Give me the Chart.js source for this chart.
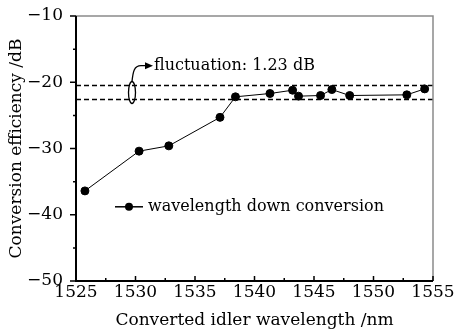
<!DOCTYPE html>
<html>
<head>
<meta charset="utf-8">
<script src="https://cdn.jsdelivr.net/npm/chart.js@4"></script>
<style>
html, body { margin: 0; padding: 0; background: #fff; }
</style>
</head>
<body>
<canvas id="chart" width="455" height="336"></canvas>
<script>
// Measured points of the down-conversion curve
const wavelengths = [1525.75, 1530.3, 1532.8, 1537.1, 1538.4, 1541.3, 1543.2, 1543.7, 1545.55, 1546.5, 1548.0, 1552.8, 1554.3];
const efficiency = [-36.4, -30.4, -29.6, -25.3, -22.2, -21.7, -21.2, -22.1, -22.0, -21.1, -22.0, -21.9, -21.0];
// Dashed bounds of the flat region
const fluctuationBounds = [-20.5, -22.6];
const xRange = [1525, 1555];
const yRange = [-50, -10];
const seriesLabel = 'wavelength down conversion';
const fluctuationLabel = 'fluctuation: 1.23 dB';

const FONT = 'DejaVu Serif';

const dashedSets = fluctuationBounds.map(v => ({
    data: [{ x: xRange[0], y: v }, { x: xRange[1], y: v }],
    showLine: true,
    borderColor: '#000',
    borderWidth: 1.5,
    borderDash: [5, 3],
    pointRadius: 0,
    pointHoverRadius: 0,
    fill: false
}));

// frame, minor ticks, legend and annotation
const decorations = {
    id: 'decorations',
    afterDatasetsDraw(chart) {
        const ctx = chart.ctx;
        const { left, right, top, bottom } = chart.chartArea;
        const xs = chart.scales.x;
        const ys = chart.scales.y;
        ctx.save();

        // grey top / right frame
        ctx.strokeStyle = '#8a8a8a';
        ctx.lineWidth = 1.5;
        ctx.beginPath();
        ctx.moveTo(left, top);
        ctx.lineTo(right, top);
        ctx.lineTo(right, bottom);
        ctx.stroke();

        // black left / bottom axes
        ctx.strokeStyle = '#000';
        ctx.lineWidth = 2;
        ctx.beginPath();
        ctx.moveTo(left, top);
        ctx.lineTo(left, bottom);
        ctx.lineTo(right, bottom);
        ctx.stroke();

        // ticks: y outward, x inward
        ctx.lineWidth = 1.5;
        ctx.beginPath();
        for (let v = yRange[0]; v <= yRange[1]; v += 5) {
            const p = ys.getPixelForValue(v);
            const len = v % 10 === 0 ? 6 : 3;
            ctx.moveTo(left - len, p);
            ctx.lineTo(left, p);
        }
        for (let v = xRange[0]; v <= xRange[1]; v += 2.5) {
            const p = xs.getPixelForValue(v);
            const len = (v - xRange[0]) % 5 === 0 ? 5 : 3;
            ctx.moveTo(p, bottom);
            ctx.lineTo(p, bottom - len);
        }
        ctx.stroke();

        // legend
        const ly = ys.getPixelForValue(-38.8);
        ctx.lineWidth = 1.5;
        ctx.beginPath();
        ctx.moveTo(left + 39, ly);
        ctx.lineTo(left + 67, ly);
        ctx.stroke();
        ctx.fillStyle = '#000';
        ctx.beginPath();
        ctx.arc(left + 53, ly, 4, 0, Math.PI * 2);
        ctx.fill();
        ctx.font = '16px "' + FONT + '"';
        ctx.textBaseline = 'middle';
        ctx.textAlign = 'left';
        ctx.fillText(seriesLabel, left + 72, ly);

        // ellipse around the two dashed lines
        const y1 = ys.getPixelForValue(fluctuationBounds[0]);
        const y2 = ys.getPixelForValue(fluctuationBounds[1]);
        const cx = left + 56;
        const cy = (y1 + y2) / 2;
        ctx.lineWidth = 1.3;
        ctx.beginPath();
        ctx.ellipse(cx, cy, 3.5, 11, 0, 0, Math.PI * 2);
        ctx.stroke();

        // hooked arrow to label
        const ty = ys.getPixelForValue(-17.5);
        ctx.beginPath();
        ctx.moveTo(cx, cy - 11);
        ctx.bezierCurveTo(cx + 1, ty + 6, cx + 2, ty, cx + 9, ty);
        ctx.lineTo(cx + 15, ty);
        ctx.stroke();
        ctx.beginPath();
        ctx.moveTo(cx + 21, ty);
        ctx.lineTo(cx + 13, ty - 3.5);
        ctx.lineTo(cx + 13, ty + 3.5);
        ctx.closePath();
        ctx.fill();

        ctx.fillText(fluctuationLabel, cx + 22, ty);
        ctx.restore();
    }
};

new Chart(document.getElementById('chart'), {
    type: 'scatter',
    data: {
        datasets: [
            {
                label: seriesLabel,
                data: wavelengths.map((x, i) => ({ x, y: efficiency[i] })),
                showLine: true,
                borderColor: '#000',
                borderWidth: 1,
                pointRadius: 4,
                pointHoverRadius: 4,
                pointBackgroundColor: '#000',
                pointBorderColor: '#000'
            },
            ...dashedSets
        ]
    },
    options: {
        responsive: false,
        animation: false,
        layout: { padding: { left: 0, right: 22, top: 16, bottom: 0 } },
        plugins: {
            legend: { display: false },
            tooltip: { enabled: false }
        },
        scales: {
            x: {
                type: 'linear',
                min: xRange[0],
                max: xRange[1],
                afterFit: s => { s.height = 55; s.paddingLeft = 0; s.paddingRight = 0; },
                grid: { display: false, drawTicks: false },
                border: { display: false },
                ticks: {
                    stepSize: 5,
                    maxRotation: 0,
                    autoSkip: false,
                    padding: 1,
                    color: '#000',
                    font: { family: FONT, size: 17 },
                    callback: v => String(v)
                },
                title: {
                    display: true,
                    text: 'Converted idler wavelength /nm',
                    color: '#000',
                    padding: { top: 0, bottom: 5 },
                    font: { family: FONT, size: 17 }
                }
            },
            y: {
                min: yRange[0],
                max: yRange[1],
                afterFit: s => { s.width = 76; s.paddingTop = 0; s.paddingBottom = 0; },
                grid: { display: false, drawTicks: false },
                border: { display: false },
                ticks: {
                    stepSize: 10,
                    padding: 13,
                    color: '#000',
                    font: { family: FONT, size: 17 },
                    callback: v => (v < 0 ? '\u2212' + Math.abs(v) : String(v))
                },
                title: {
                    display: true,
                    text: 'Conversion efficiency /dB',
                    color: '#000',
                    padding: { top: 6, bottom: 0 },
                    font: { family: FONT, size: 17 }
                }
            }
        }
    },
    plugins: [decorations]
});
</script>
</body>
</html>
